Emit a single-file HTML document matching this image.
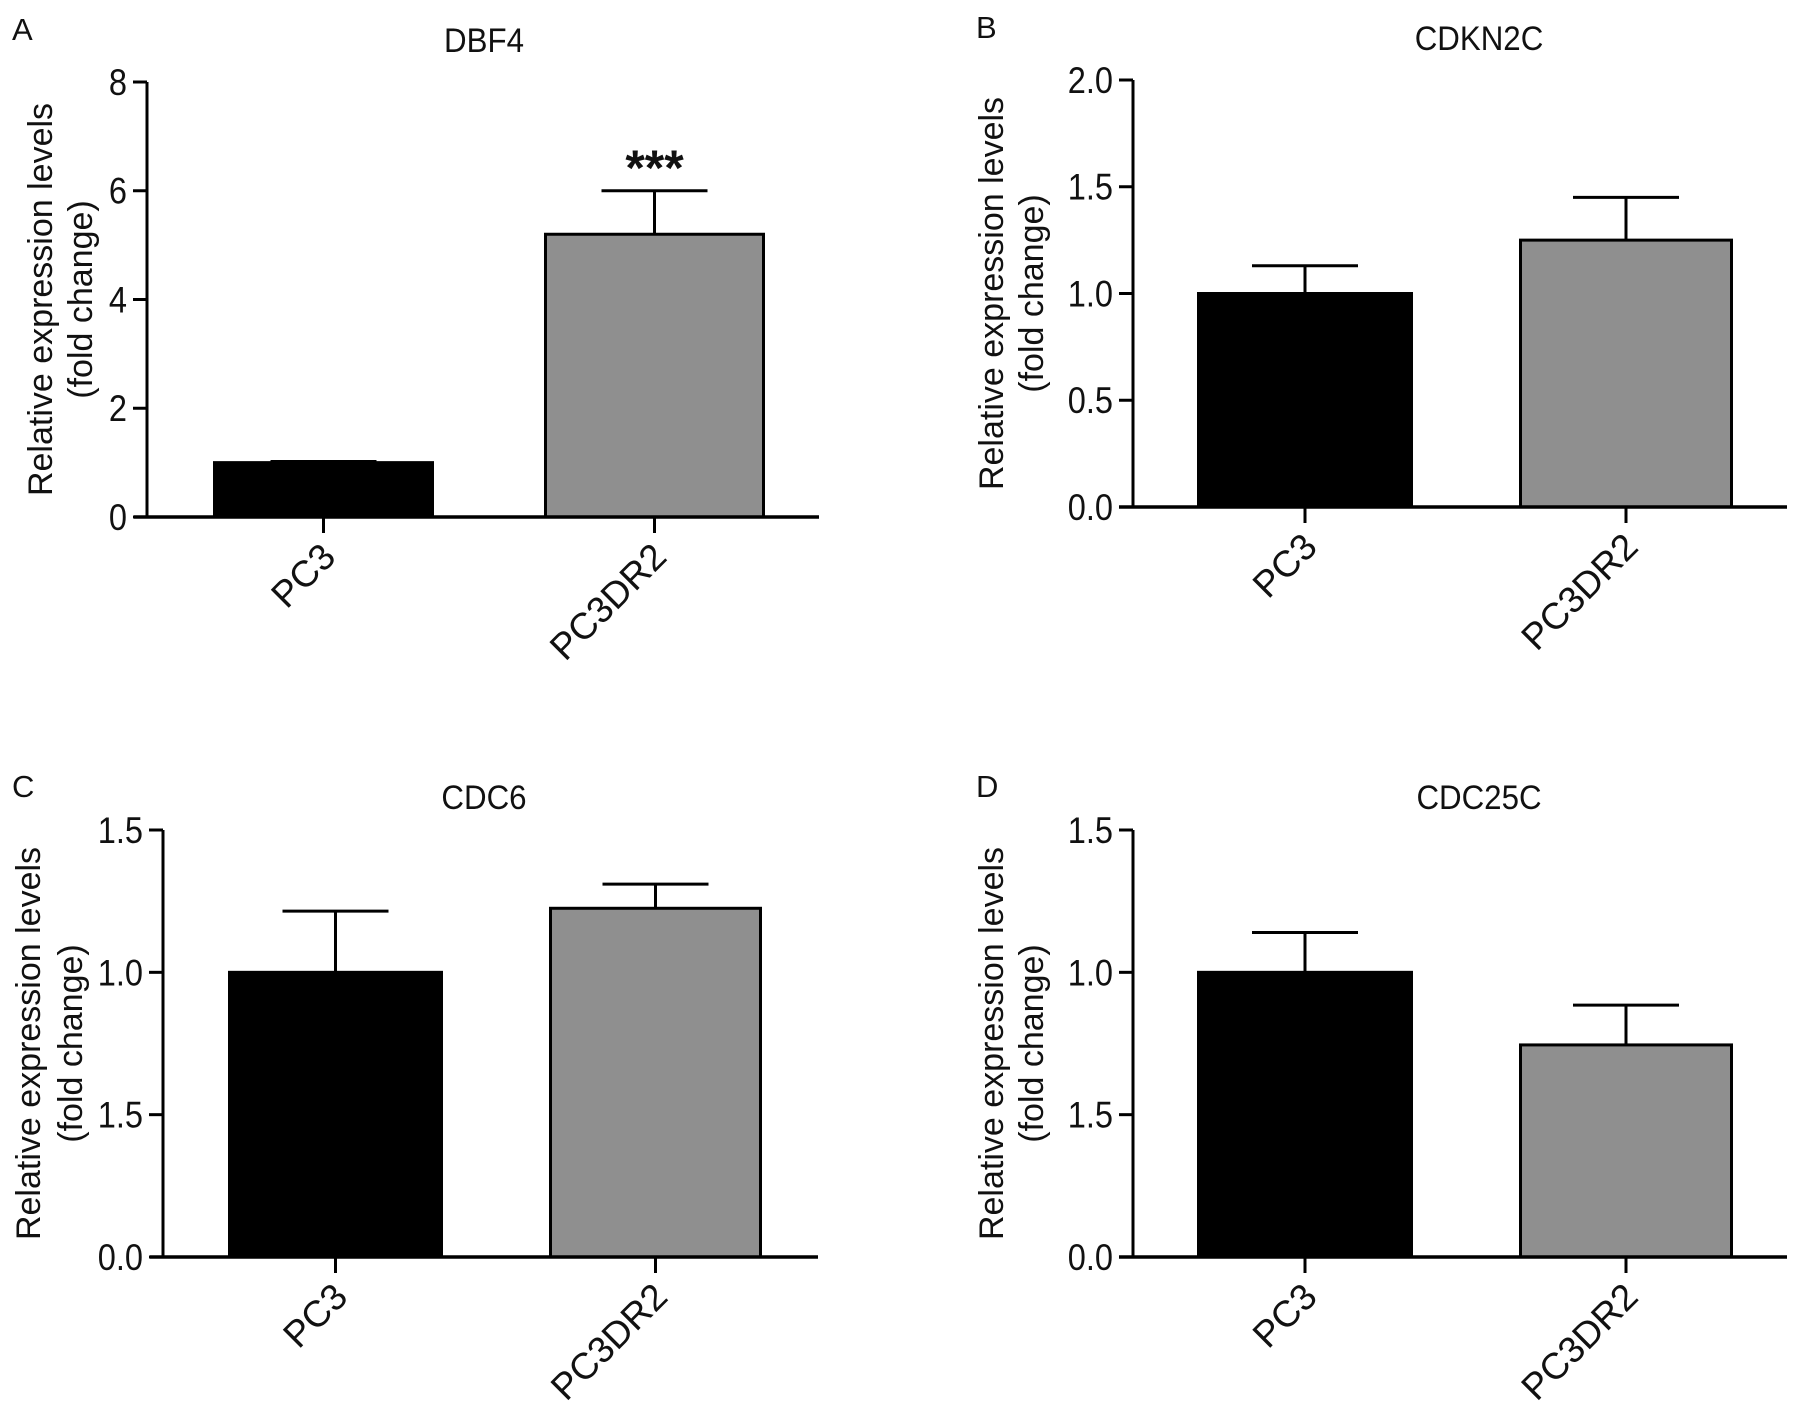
<!DOCTYPE html>
<html><head><meta charset="utf-8"><style>
html,body{margin:0;padding:0;background:#fff;}
svg text{font-family:"Liberation Sans",Arial,sans-serif;fill:#111;}
</style></head><body>
<svg id="fig" width="1799" height="1402" viewBox="0 0 1799 1402" xmlns="http://www.w3.org/2000/svg"></svg>
<script>
// ---- data ----
const categories = ["PC3", "PC3DR2"];
const dbf4Values = [1.0, 5.2];
const dbf4Errors = [1.02, 6.0];
const dbf4Ticks = [0, 2, 4, 6, 8];
const dbf4TickLabels = ["0", "2", "4", "6", "8"];
const cdkn2cValues = [1.0, 1.25];
const cdkn2cErrors = [1.13, 1.45];
const cdkn2cTicks = [0, 0.5, 1.0, 1.5, 2.0];
const cdkn2cTickLabels = ["0.0", "0.5", "1.0", "1.5", "2.0"];
const cdc6Values = [1.0, 1.225];
const cdc6Errors = [1.215, 1.31];
const cdc6Ticks = [0, 0.5, 1.0, 1.5];
const cdc6TickLabels = ["0.0", "1.5", "1.0", "1.5"];
const cdc25cValues = [1.0, 0.745];
const cdc25cErrors = [1.14, 0.885];
const cdc25cTicks = [0, 0.5, 1.0, 1.5];
const cdc25cTickLabels = ["0.0", "1.5", "1.0", "1.5"];

const NS = "http://www.w3.org/2000/svg";
const svg = document.getElementById("fig");
function mk(tag, attrs, parent) {
  const e = document.createElementNS(NS, tag);
  for (const k in attrs) e.setAttribute(k, attrs[k]);
  (parent || svg).appendChild(e);
  return e;
}

function panel(cfg) {
  const g = mk("g", {});
  
  
  const yMax = cfg.ticks[cfg.ticks.length - 1];
  const yS = v => cfg.base - (v / yMax) * (cfg.base - cfg.top);
  const colors = ["#000", "#8f8f8f"];
  const L = mk("text", {x: cfg.lx, y: cfg.ly, "font-size": 31}, g);
  L.textContent = cfg.letter;
  
  
  const T = mk("text", {x: cfg.tx, y: cfg.ty, "font-size": 34, "text-anchor": "middle", transform: `translate(${cfg.tx},0) scale(0.92,1) translate(${-cfg.tx},0)`}, g);
  T.textContent = cfg.title;
  
  
  const yt = mk("text", {"font-size": 34, "text-anchor": "middle", transform: `translate(${cfg.yt1},${(cfg.top + cfg.base) / 2}) rotate(-90)`}, g);
  yt.textContent = "Relative expression levels";
  
  
  const yt2 = mk("text", {"font-size": 34, "text-anchor": "middle", transform: `translate(${cfg.yt2},${(cfg.top + cfg.base) / 2}) rotate(-90)`}, g);
  yt2.textContent = "(fold change)";
  
  
  cfg.values.forEach((v, i) => {
    const x0 = cfg.bars[i][0], x1 = cfg.bars[i][1], cx = (x0 + x1) / 2;
    const e = cfg.errors[i];
    const el = mk("line", {x1: cx, x2: cx, y1: yS(v), y2: yS(e), stroke: "#000", "stroke-width": 3}, g);
    
    
    const cap = mk("line", {x1: cx - 53, x2: cx + 53, y1: yS(e), y2: yS(e), stroke: "#000", "stroke-width": 3}, g);
    
    
    const r = mk("rect", {x: x0 + 1.5, y: yS(v), width: x1 - x0 - 3, height: cfg.base - yS(v), fill: colors[i], stroke: "#000", "stroke-width": 3}, g);
    
    
    mk("line", {x1: cx, x2: cx, y1: cfg.base, y2: cfg.base + 16, stroke: "#000", "stroke-width": 3}, g);
    const lb = mk("text", {"font-size": 37, "text-anchor": "end", transform: `translate(${cx + 14},${cfg.base + 42}) rotate(-45)`}, g);
    lb.textContent = categories[i];
    
    
  });
  const ya = mk("line", {x1: cfg.ax, x2: cfg.ax, y1: cfg.top, y2: cfg.base, stroke: "#000", "stroke-width": 3}, g);
  
  
  const xa = mk("line", {x1: cfg.xs, x2: cfg.xe, y1: cfg.base, y2: cfg.base, stroke: "#000", "stroke-width": 3.5}, g);
  
  
  cfg.ticks.forEach((t, i) => {
    mk("line", {x1: cfg.ax - 14, x2: cfg.ax, y1: yS(t), y2: yS(t), stroke: "#000", "stroke-width": 3}, g);
    const tx = cfg.ax - 20;
    const tl = mk("text", {x: tx, y: yS(t) + 13, "font-size": 37, "text-anchor": "end", transform: `translate(${tx},0) scale(0.88,1) translate(${-tx},0)`}, g);
    tl.textContent = cfg.tickLabels[i];
    
    
  });
  if (cfg.star) {
    const s = mk("text", {x: (cfg.bars[1][0] + cfg.bars[1][1]) / 2, y: yS(cfg.errors[1]) - 6, "font-size": 50, "font-weight": "bold", "text-anchor": "middle"}, g);
    s.textContent = "***";
    
    
  }
}

panel({name: "panel-a-dbf4", letter: "A", lx: 12, ly: 40, title: "DBF4", tx: 484, ty: 52,
  yt1: 52, yt2: 92, top: 82, base: 517, ax: 147, xs: 134, xe: 819,
  bars: [[213, 434], [544, 765]], values: dbf4Values, errors: dbf4Errors,
  ticks: dbf4Ticks, tickLabels: dbf4TickLabels, star: true});
panel({name: "panel-b-cdkn2c", letter: "B", lx: 976, ly: 38, title: "CDKN2C", tx: 1479, ty: 50,
  yt1: 1003, yt2: 1043, top: 80, base: 507, ax: 1133, xs: 1119, xe: 1787,
  bars: [[1197, 1413], [1519, 1733]], values: cdkn2cValues, errors: cdkn2cErrors,
  ticks: cdkn2cTicks, tickLabels: cdkn2cTickLabels});
panel({name: "panel-c-cdc6", letter: "C", lx: 12, ly: 797, title: "CDC6", tx: 484, ty: 809,
  yt1: 40, yt2: 82, top: 830, base: 1257, ax: 163, xs: 150, xe: 818,
  bars: [[228, 443], [549, 762]], values: cdc6Values, errors: cdc6Errors,
  ticks: cdc6Ticks, tickLabels: cdc6TickLabels});
panel({name: "panel-d-cdc25c", letter: "D", lx: 976, ly: 797, title: "CDC25C", tx: 1479, ty: 809,
  yt1: 1003, yt2: 1043, top: 830, base: 1257, ax: 1133, xs: 1119, xe: 1787,
  bars: [[1197, 1413], [1519, 1733]], values: cdc25cValues, errors: cdc25cErrors,
  ticks: cdc25cTicks, tickLabels: cdc25cTickLabels});
</script>
</body></html>
